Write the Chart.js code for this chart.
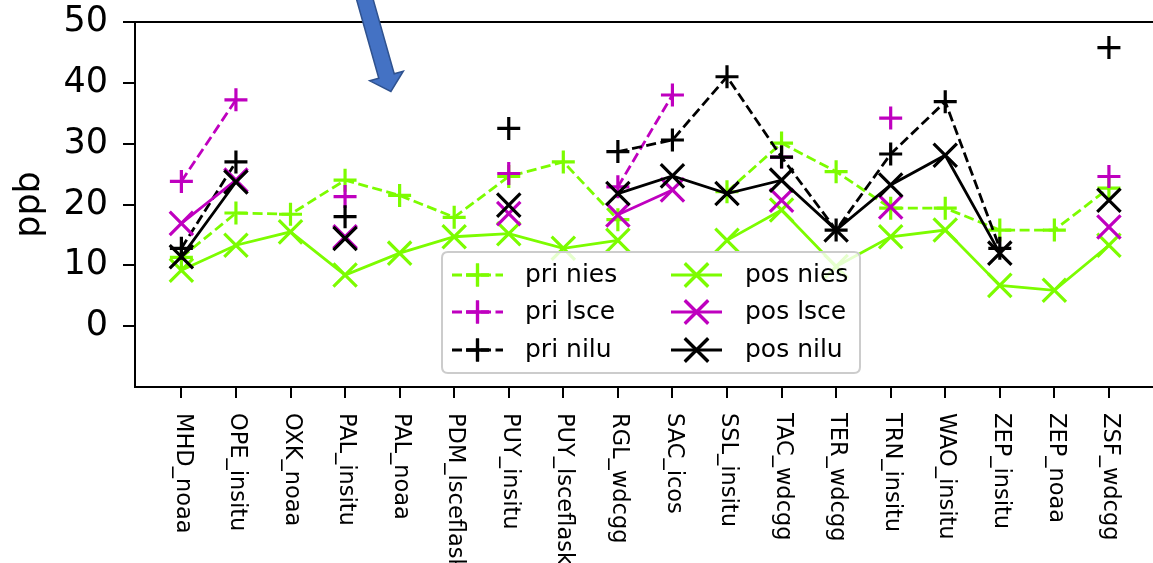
<!DOCTYPE html>
<html>
<head>
<meta charset="utf-8">
<script src="https://cdn.jsdelivr.net/npm/chart.js@4"></script>
<style>
html, body { margin: 0; padding: 0; background: #fff; overflow: hidden; }
#wrap { width: 1153px; height: 563px; overflow: hidden; position: relative; }
canvas { display: block; }
</style>
</head>
<body>
<div id="wrap"><canvas id="canvasChart" width="1175" height="563"></canvas></div>
<script>
// stations on the x axis
var stations = ["MHD_noaa", "OPE_insitu", "OXK_noaa", "PAL_insitu", "PAL_noaa", "PDM_lsceflask",
  "PUY_insitu", "PUY_lsceflask", "RGL_wdcgg", "SAC_icos", "SSL_insitu", "TAC_wdcgg",
  "TER_wdcgg", "TRN_insitu", "WAO_insitu", "ZEP_insitu", "ZEP_noaa", "ZSF_wdcgg"];

var yTicks = [0, 10, 20, 30, 40, 50];

// values in ppb (null = no data)
var priNies = [11.3, 18.6, 18.4, 24.0, 21.5, 17.9, 24.6, 27.0, 17.5, null, 22.1, 30.1, 25.4, 19.4, 19.4, 15.8, 15.8, 22.7];
var priLsce = [23.8, 37.2, null, 21.3, null, null, 25.1, null, 22.9, 38.0, null, 27.8, null, 34.2, null, null, null, 24.6];
var priNilu = [12.8, 27.0, null, 18.0, null, null, 32.5, null, 28.7, 30.6, 41.0, 27.8, 15.8, 28.3, 36.9, 12.8, null, 45.8];
var posNies = [9.2, 13.3, 15.5, 8.4, 12.0, 14.7, 15.2, 12.8, 14.1, null, 14.1, 19.1, 9.8, 14.7, 15.8, 6.7, 5.9, 13.3];
var posLsce = [16.9, 24.0, null, 14.7, null, null, 18.5, null, 18.3, 22.4, null, 20.7, null, 19.6, null, null, null, 16.3];
var posNilu = [11.4, 23.7, null, 14.4, null, null, 19.9, null, 21.8, 24.7, 21.8, 24.0, 15.8, 23.2, 28.1, 12.0, null, 20.7];

var GREEN = "#7cfc00";
var MAGENTA = "#bf00bf";
var BLACK = "#000000";
var FONT = "'DejaVu Sans', sans-serif";
var DASH = [10, 4.5];

var series = [
  { label: "pri nies", data: priNies, color: GREEN, dashed: true, marker: "cross" },
  { label: "pri lsce", data: priLsce, color: MAGENTA, dashed: true, marker: "cross" },
  { label: "pri nilu", data: priNilu, color: BLACK, dashed: true, marker: "cross" },
  { label: "pos nies", data: posNies, color: GREEN, dashed: false, marker: "crossRot" },
  { label: "pos lsce", data: posLsce, color: MAGENTA, dashed: false, marker: "crossRot" },
  { label: "pos nilu", data: posNilu, color: BLACK, dashed: false, marker: "crossRot" }
];

function toPoints(arr) {
  return arr.map(function (v, i) { return { x: i, y: v }; });
}

function markerRadius(m) {
  return m == "cross" ? 11.5 : 16.5;
}

var datasets = series.map(function (s, k) {
  return {
    label: s.label,
    data: toPoints(s.data),
    borderColor: s.color,
    backgroundColor: s.color,
    borderWidth: 2.8,
    borderDash: s.dashed ? DASH : [],
    pointStyle: s.marker,
    pointRadius: markerRadius(s.marker),
    pointHoverRadius: markerRadius(s.marker),
    pointBorderWidth: 3.2,
    pointBorderColor: s.color,
    fill: false,
    tension: 0,
    order: series.length - k   // later series drawn on top, like matplotlib
  };
});

// draws one legend handle (line + marker)
function drawHandle(ctx, x0, x1, y, s) {
  ctx.save();
  ctx.strokeStyle = s.color;
  ctx.lineWidth = 2.8;
  ctx.setLineDash(s.dashed ? DASH : []);
  ctx.beginPath();
  ctx.moveTo(x0, y);
  ctx.lineTo(x1, y);
  ctx.stroke();
  ctx.setLineDash([]);
  ctx.lineWidth = 3.2;
  Chart.helpers.drawPoint(ctx, { pointStyle: s.marker, radius: markerRadius(s.marker), borderWidth: 3.2, rotation: 0 }, (x0 + x1) / 2, y);
  ctx.stroke();
  ctx.restore();
}

function roundRect(ctx, x, y, w, h, r) {
  ctx.beginPath();
  ctx.moveTo(x + r, y);
  ctx.lineTo(x + w - r, y);
  ctx.quadraticCurveTo(x + w, y, x + w, y + r);
  ctx.lineTo(x + w, y + h - r);
  ctx.quadraticCurveTo(x + w, y + h, x + w - r, y + h);
  ctx.lineTo(x + r, y + h);
  ctx.quadraticCurveTo(x, y + h, x, y + h - r);
  ctx.lineTo(x, y + r);
  ctx.quadraticCurveTo(x, y, x + r, y);
  ctx.closePath();
}

var decor = {
  id: "decor",
  afterDraw: function (chart) {
    var ctx = chart.ctx;
    var a = chart.chartArea;
    var xs = chart.scales.x;

    // axes frame
    ctx.save();
    ctx.strokeStyle = "#000";
    ctx.lineWidth = 2;
    ctx.strokeRect(a.left, a.top, a.right - a.left, a.bottom - a.top);
    ctx.restore();

    // rotated station labels, reading top to bottom
    ctx.save();
    ctx.fillStyle = "#000";
    ctx.font = "22.5px " + FONT;
    ctx.textAlign = "left";
    ctx.textBaseline = "middle";
    stations.forEach(function (name, i) {
      var px = xs.getPixelForValue(i);
      ctx.save();
      ctx.translate(px + 1, a.bottom + 26);
      ctx.rotate(Math.PI / 2);
      ctx.fillText(name, 0, 0);
      ctx.restore();
    });
    ctx.restore();

    // legend, 2 columns
    ctx.save();
    roundRect(ctx, 442, 252, 418, 121, 6);
    ctx.fillStyle = "rgba(255,255,255,0.8)";
    ctx.fill();
    ctx.strokeStyle = "#cccccc";
    ctx.lineWidth = 2;
    ctx.stroke();
    ctx.font = "25px " + FONT;
    ctx.fillStyle = "#000";
    ctx.textBaseline = "middle";
    var rows = [275, 312, 350];
    series.forEach(function (s, k) {
      var col = Math.floor(k / 3);
      var y = rows[k % 3];
      var hx = col == 0 ? 452 : 671;
      drawHandle(ctx, hx, hx + 51, y, s);
      ctx.fillText(s.label, col == 0 ? 525 : 745, y);
    });
    ctx.restore();

    // blue arrow annotation
    ctx.save();
    ctx.beginPath();
    ctx.moveTo(355.9, -2.8);
    ctx.lineTo(371.3, -7.2);
    ctx.lineTo(394.2, 73.8);
    ctx.lineTo(403.3, 71.2);
    ctx.lineTo(390.9, 91.4);
    ctx.lineTo(369.7, 80.8);
    ctx.lineTo(378.8, 78.2);
    ctx.closePath();
    ctx.fillStyle = "#4472c4";
    ctx.fill();
    ctx.strokeStyle = "#2f528f";
    ctx.lineWidth = 1.5;
    ctx.stroke();
    ctx.restore();
  }
};

const ctx = document.getElementById("canvasChart");

var chart = new Chart(ctx, {
  type: "line",
  data: { datasets: datasets },
  options: {
    responsive: false,
    animation: false,
    events: [],
    layout: { padding: { top: 22, right: 9, left: 0, bottom: 0 } },
    plugins: {
      legend: { display: false },
      tooltip: { enabled: false }
    },
    scales: {
      x: {
        type: "linear",
        min: -0.85,
        max: 17.85,
        afterBuildTicks: function (s) {
          s.ticks = stations.map(function (n, i) { return { value: i }; });
        },
        ticks: { display: false },
        grid: { drawOnChartArea: false, drawTicks: true, tickLength: 11, color: "#000", lineWidth: 2 },
        border: { display: false },
        afterFit: function (s) {
          s.height = 176;
          s.paddingLeft = 0;
          s.paddingRight = 0;
        }
      },
      y: {
        type: "linear",
        min: -10,
        max: 50,
        afterBuildTicks: function (s) {
          s.ticks = yTicks.map(function (v) { return { value: v }; });
        },
        ticks: { font: { size: 35, family: FONT }, padding: 15, color: "#000" },
        grid: { drawOnChartArea: false, drawTicks: true, tickLength: 12, color: "#000", lineWidth: 2 },
        border: { display: false },
        title: { display: true, text: "ppb", font: { size: 35, family: FONT }, color: "#000", padding: { top: 9, bottom: 0 } },
        afterFit: function (s) {
          s.width = 135;
          s.paddingTop = 0;
          s.paddingBottom = 0;
        }
      }
    }
  },
  plugins: [decor]
});
</script>
</body>
</html>
